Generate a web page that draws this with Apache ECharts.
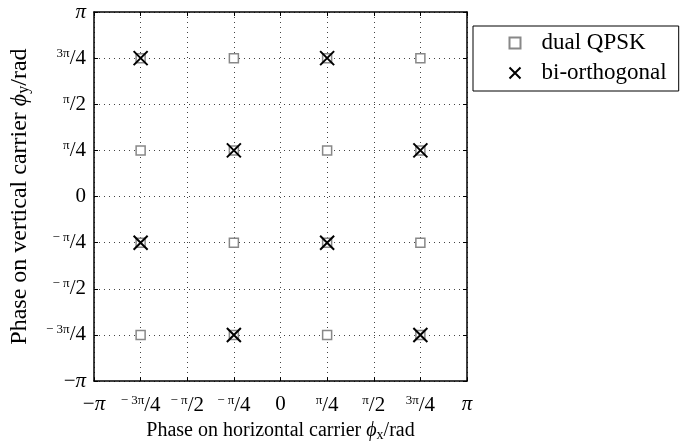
<!DOCTYPE html>
<html>
<head>
<meta charset="utf-8">
<script src="https://cdn.jsdelivr.net/npm/echarts@6/dist/echarts.min.js"></script>
<style>
  html, body { margin: 0; padding: 0; background: #fff; }
  #chart { width: 690px; height: 447px; }
</style>
</head>
<body>
<div id="chart"></div>
<script>
// phases are given in units of pi/4
var tickValues = [-4, -3, -2, -1, 0, 1, 2, 3, 4];
var tickLabels = [
    '{n|−}{p|π}',
    '{s|− 3π}{n|/4}',
    '{s|− π}{n|/2}',
    '{s|− π}{n|/4}',
    '{n|0}',
    '{s|π}{n|/4}',
    '{s|π}{n|/2}',
    '{s|3π}{n|/4}',
    '{p|π}'
];

var qpskX = [-3, -3, -3, -3, -1, -1, -1, -1, 1, 1, 1, 1, 3, 3, 3, 3];
var qpskY = [-3, -1, 1, 3, -3, -1, 1, 3, -3, -1, 1, 3, -3, -1, 1, 3];

var biorthX = [-3, 1, -1, 3, -3, 1, -1, 3];
var biorthY = [3, 3, 1, 1, -1, -1, -3, -3];

var serif = '"Liberation Serif", "DejaVu Serif", serif';

function pairs(xs, ys) {
    var out = [];
    for (var i = 0; i < xs.length; ++i) {
        out.push([xs[i], ys[i]]);
    }
    return out;
}

function fmt(v) {
    var i = tickValues.indexOf(Math.round(v));
    return i < 0 ? '' : tickLabels[i];
}

var labelRich = {
    n: {fontSize: 21, fontFamily: serif, color: '#000'},
    p: {fontSize: 21, fontFamily: serif, fontStyle: 'italic', color: '#000'},
    s: {fontSize: 13, fontFamily: serif, color: '#000', padding: [0, 0, 10, 0]}
};

function nameStyle(size) {
    return {
        fontFamily: serif, fontSize: size, color: '#000',
        rich: {
            i: {fontFamily: serif, fontSize: size, fontStyle: 'italic', color: '#000'},
            sub: {fontFamily: serif, fontSize: Math.round(size * 0.68), color: '#000', padding: [8, 0, 0, 0]},
            t: {fontFamily: serif, fontSize: size, color: '#000'}
        }
    };
}

var chart = echarts.init(document.getElementById('chart'));

var dotted = {color: '#444', width: 1, type: [1, 4]};
var frame = {show: true, onZero: false, lineStyle: {color: '#000', width: 1.5}};
var ticks = {show: true, inside: true, length: 4, lineStyle: {color: '#000'}};

var option = {
    animation: false,
    backgroundColor: '#fff',
    grid: {left: 92, top: 12, right: 223, bottom: 61, show: false},
    legend: {
        left: 473,
        top: 26,
        orient: 'vertical',
        padding: [5, 12, 6, 34],
        itemGap: 6,
        itemWidth: 11,
        itemHeight: 11,
        borderColor: '#000',
        borderWidth: 1,
        borderRadius: 0,
        backgroundColor: '#fff',
        textStyle: {fontFamily: serif, fontSize: 23, lineHeight: 24, color: '#000', padding: [0, 0, 0, 16]},
        data: ['dual QPSK', 'bi-orthogonal']
    },
    xAxis: [{
        type: 'value',
        min: -4, max: 4, interval: 1,
        axisLine: frame,
        axisTick: ticks,
        axisLabel: {margin: 13, formatter: fmt, rich: labelRich},
        splitLine: {show: true, lineStyle: dotted},
        name: 'Phase on horizontal carrier {i|ϕ}{sub|x}{t|/rad}',
        nameLocation: 'middle',
        nameGap: 37,
        nameTextStyle: nameStyle(20)
    }, {
        type: 'value',
        position: 'top',
        min: -4, max: 4, interval: 1,
        axisLine: frame,
        axisTick: ticks,
        axisLabel: {show: false},
        splitLine: {show: false}
    }],
    yAxis: [{
        type: 'value',
        min: -4, max: 4, interval: 1,
        axisLine: frame,
        axisTick: ticks,
        axisLabel: {margin: 8, formatter: fmt, rich: labelRich},
        splitLine: {show: true, lineStyle: dotted},
        name: 'Phase on vertical carrier {i|ϕ}{sub|y}{t|/rad}',
        nameLocation: 'middle',
        nameGap: 62,
        nameTextStyle: nameStyle(24)
    }, {
        type: 'value',
        position: 'right',
        min: -4, max: 4, interval: 1,
        axisLine: frame,
        axisTick: ticks,
        axisLabel: {show: false},
        splitLine: {show: false}
    }],
    series: [{
        name: 'dual QPSK',
        type: 'scatter',
        symbol: 'rect',
        symbolSize: 9,
        itemStyle: {color: '#fff', borderColor: '#888', borderWidth: 1.5, opacity: 1},
        data: pairs(qpskX, qpskY),
        z: 2
    }, {
        name: 'bi-orthogonal',
        type: 'scatter',
        symbol: 'path://M0,0L10,10M10,0L0,10',
        symbolSize: 14,
        itemStyle: {color: 'none', borderColor: '#000', borderWidth: 2, opacity: 1},
        data: pairs(biorthX, biorthY),
        z: 3
    }]
};

chart.setOption(option);
</script>
</body>
</html>
